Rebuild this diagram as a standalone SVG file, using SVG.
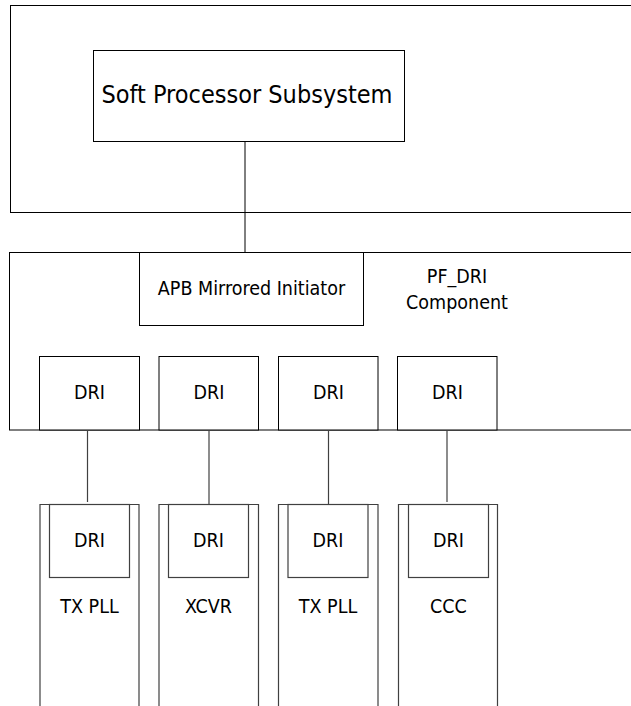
<svg xmlns="http://www.w3.org/2000/svg" width="631" height="706" viewBox="0 0 631 706">
<style>
.box{fill:#fff;stroke:#000;stroke-width:1}
.gbox{fill:#fff;stroke:#404040;stroke-width:1.2}
.ln{stroke:#000;stroke-width:1;fill:none}
.gln{stroke:#404040;stroke-width:1.2;fill:none}
text{font-family:"DejaVu Sans Condensed","DejaVu Sans","Liberation Sans",sans-serif;font-stretch:condensed;fill:#000;text-anchor:middle}
.s{font-size:19.5px}
.l{font-size:25px}
</style>
<rect width="631" height="706" fill="#fff"/>
<g id="top-container"><rect class="box" x="10.5" y="5.5" width="640" height="207"/></g>
<g id="soft-processor"><rect class="box" x="93.5" y="50.5" width="311" height="91"/><text class="l" x="247" y="102.5">Soft Processor Subsystem</text></g>
<g id="pf-dri"><rect class="box" x="9.5" y="252.5" width="640" height="177.5"/><text class="s" x="457" y="283">PF_DRI</text><text class="s" x="457" y="308.5">Component</text></g>
<g id="apb"><rect class="box" x="139.5" y="252.5" width="224" height="73"/><text class="s" x="251.5" y="295">APB Mirrored Initiator</text></g>
<g id="dri1"><rect class="box" x="39.5" y="356.5" width="100" height="73.5"/><text class="s" x="89.5" y="398.5">DRI</text></g>
<g id="dri2"><rect class="box" x="159" y="356.5" width="99.5" height="73.5"/><text class="s" x="209" y="398.5">DRI</text></g>
<g id="dri3"><rect class="box" x="278.5" y="356.5" width="99.5" height="73.5"/><text class="s" x="328.5" y="398.5">DRI</text></g>
<g id="dri4"><rect class="box" x="397.5" y="356.5" width="99.5" height="73.5"/><text class="s" x="447.5" y="398.5">DRI</text></g>
<g id="txpll1"><path class="gln" d="M40 720V504.5H139V720"/><rect class="gbox" x="49.5" y="504.5" width="80" height="73"/><text class="s" x="89.5" y="546.5">DRI</text><text class="s" x="89.5" y="612.5">TX PLL</text></g>
<g id="xcvr"><path class="gln" d="M159 720V504.5H258.5V720"/><rect class="gbox" x="168.5" y="504.5" width="80" height="73"/><text class="s" x="208.5" y="546.5">DRI</text><text class="s" x="208.5" y="612.5">XCVR</text></g>
<g id="txpll2"><path class="gln" d="M278.5 720V504.5H378V720"/><rect class="gbox" x="288" y="504.5" width="80" height="73"/><text class="s" x="328" y="546.5">DRI</text><text class="s" x="328" y="612.5">TX PLL</text></g>
<g id="ccc"><path class="gln" d="M398.5 720V504.5H497.5V720"/><rect class="gbox" x="408.5" y="504.5" width="80" height="73"/><text class="s" x="448.5" y="546.5">DRI</text><text class="s" x="448.5" y="612.5">CCC</text></g>
<g id="connectors">
<path class="ln" d="M245 141.5V252.5"/>
<path class="gln" d="M87.5 430V502"/>
<path class="gln" d="M209 430V504"/>
<path class="gln" d="M328.5 430V504"/>
<path class="gln" d="M447 430V502"/>
</g>
</svg>
